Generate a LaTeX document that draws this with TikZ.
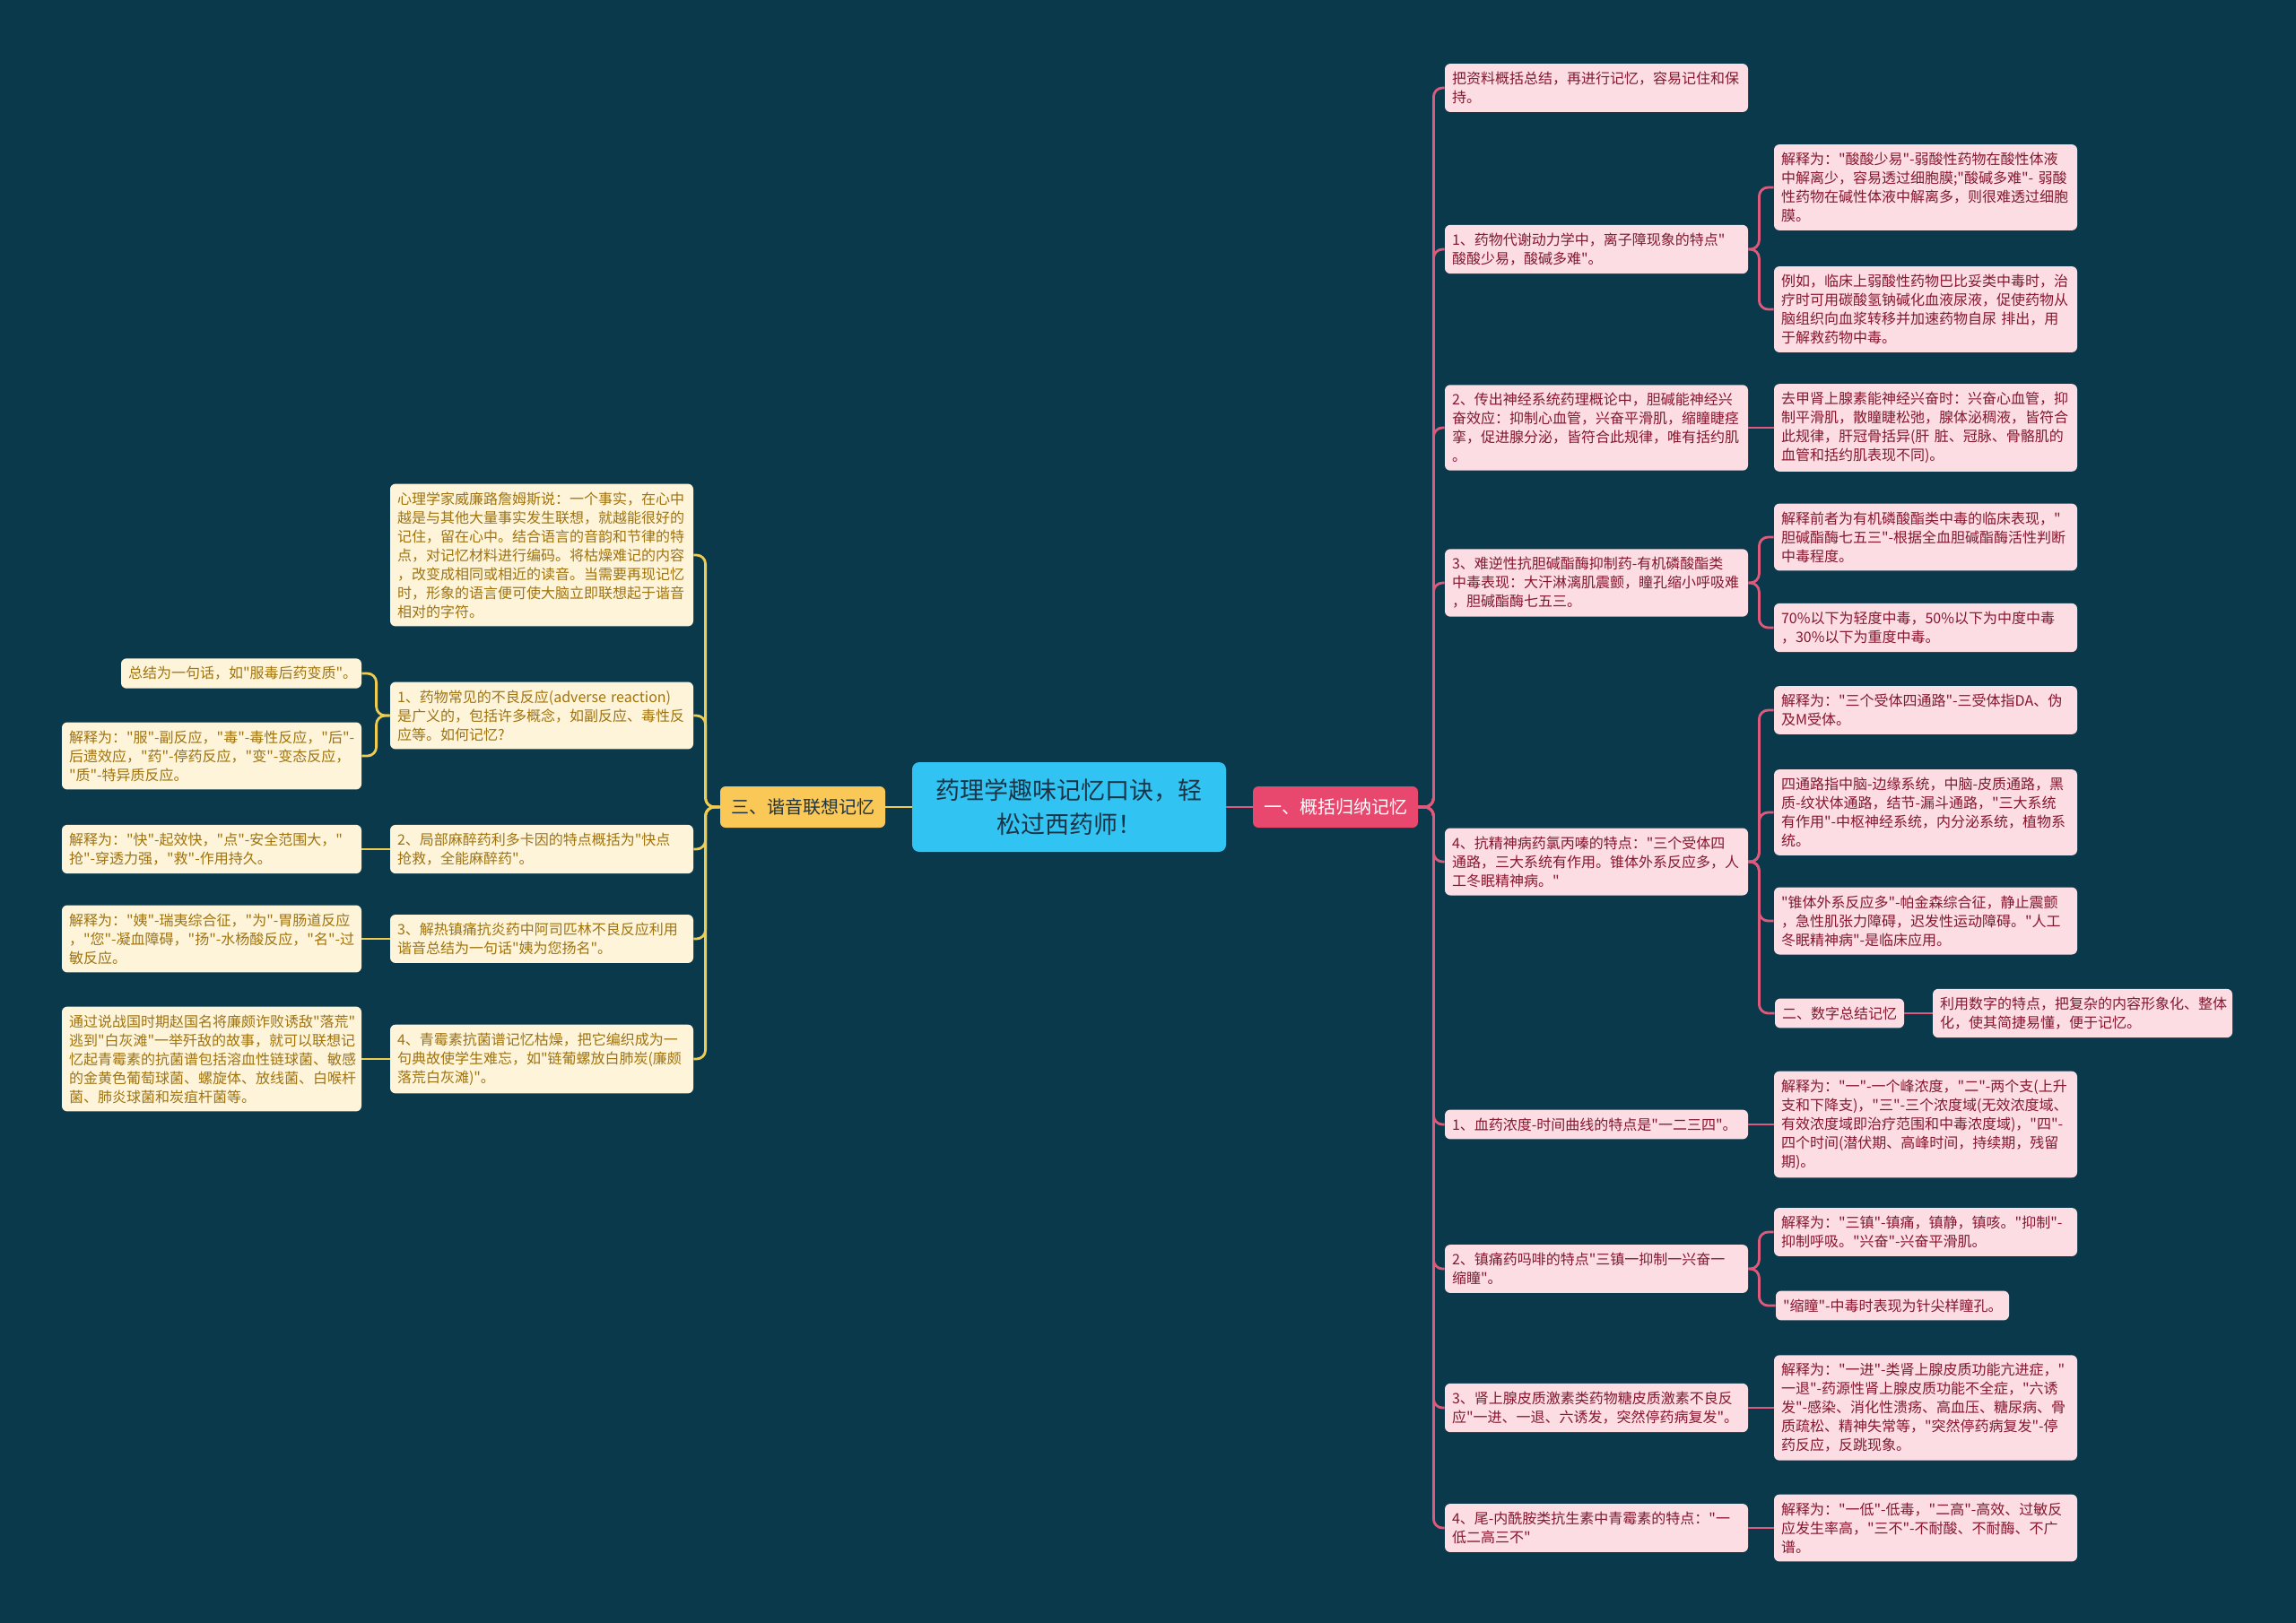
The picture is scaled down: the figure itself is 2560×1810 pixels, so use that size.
\documentclass[tikz,border=0pt]{standalone}
\usepackage{fontspec}
\setmainfont{Noto Sans CJK SC}[Ligatures=TeXOff]
\usetikzlibrary{positioning,calc}
\exhyphenpenalty=10000
\hyphenpenalty=10000

\definecolor{bgteal}{HTML}{0A394C}
\definecolor{rootblue}{HTML}{31C4F3}
\definecolor{roottext}{HTML}{1C3446}
\definecolor{branchred}{HTML}{E8476E}
\definecolor{branchyellow}{HTML}{F9C856}
\definecolor{pinkfill}{HTML}{FCDDE3}
\definecolor{pinktext}{HTML}{85172F}
\definecolor{pinkline}{HTML}{DE5A7C}
\definecolor{creamfill}{HTML}{FDF4DA}
\definecolor{creamtext}{HTML}{A0730E}
\definecolor{yellowline}{HTML}{EFCB52}

\begin{document}
\begin{tikzpicture}[
  x=0.5pt, y=-0.5pt,
  root/.style={rounded corners=4pt, fill=rootblue, text=roottext, font=\fontsize{13.5}{19}\selectfont, minimum width=175pt, minimum height=50pt, align=center},
  mainr/.style={rounded corners=3pt, fill=branchred, text=white, font=\fontsize{10}{12}\selectfont, minimum width=92pt, minimum height=23pt},
  mainl/.style={rounded corners=3pt, fill=branchyellow, text=roottext, font=\fontsize{10}{12}\selectfont, minimum width=92pt, minimum height=23pt},
  rbox/.style={rounded corners=3pt, fill=pinkfill, text=pinktext, font=\fontsize{8}{10.5}\selectfont, text width=161pt, inner xsep=4pt, inner ysep=4.5pt, align=left},
  lbox/.style={rounded corners=3pt, fill=creamfill, text=creamtext, font=\fontsize{8}{10.5}\selectfont, text width=161pt, inner xsep=4pt, inner ysep=4.5pt, align=left},
  rlink/.style={draw=pinkline, line width=1.4pt, rounded corners=5pt},
  ylink/.style={draw=yellowline, line width=1.4pt, rounded corners=5pt}
]

\useasboundingbox[fill=bgteal] (0,0) rectangle (2560,1810);

%% ---------- centre ----------
\node[root] (root) at (1192,900) {药理学趣味记忆口诀，轻\\松过西药师！};
\node[mainr] (rb) at (1489,900) {一、概括归纳记忆};
\node[mainl] (lb) at (895,900) {三、谐音联想记忆};

\draw[rlink] (root.east) -- (rb.west);
\draw[ylink] (root.west) -- (lb.east);

%% ---------- right: first column ----------
\node[rbox] (r0) at (1780,98) {把资料概括总结，再进行记忆，容易记住和保\\持。};
\node[rbox] (r1) at (1780,278) {1、药物代谢动力学中，离子障现象的特点"\\酸酸少易，酸碱多难"。};
\node[rbox] (r2) at (1780,477) {2、传出神经系统药理概论中，胆碱能神经兴\\奋效应：抑制心血管，兴奋平滑肌，缩瞳睫痉\\挛，促进腺分泌，皆符合此规律，唯有括约肌\\。};
\node[rbox] (r3) at (1780,650) {3、难逆性抗胆碱酯酶抑制药-有机磷酸酯类\\中毒表现：大汗淋漓肌震颤，瞳孔缩小呼吸难\\，胆碱酯酶七五三。};
\node[rbox] (r4) at (1780,961) {4、抗精神病药氯丙嗪的特点："三个受体四\\通路，三大系统有作用。锥体外系反应多，人\\工冬眠精神病。"};
\node[rbox] (r5) at (1780,1254) {1、血药浓度-时间曲线的特点是"一二三四"。};
\node[rbox] (r6) at (1780,1415) {2、镇痛药吗啡的特点"三镇一抑制一兴奋一\\缩瞳"。};
\node[rbox] (r7) at (1780,1570) {3、肾上腺皮质激素类药物糖皮质激素不良反\\应"一进、一退、六诱发，突然停药病复发"。};
\node[rbox] (r8) at (1780,1704) {4、尾-内酰胺类抗生素中青霉素的特点："一\\低二高三不"};

\foreach \n in {r0,r1,r2,r3,r4,r5,r6,r7,r8}
  \draw[rlink] (rb.east) -- ++(17,0) |- (\n.west);

%% ---------- right: second column ----------
\node[rbox] (r1a) at (2147,209) {解释为："酸酸少易"-弱酸性药物在酸性体液\\中解离少，容易透过细胞膜;"酸碱多难"-~弱酸\\性药物在碱性体液中解离多，则很难透过细胞\\膜。};
\node[rbox] (r1b) at (2147,345) {例如，临床上弱酸性药物巴比妥类中毒时，治\\疗时可用碳酸氢钠碱化血液尿液，促使药物从\\脑组织向血浆转移并加速药物自尿~排出，用\\于解救药物中毒。};
\node[rbox] (r2a) at (2147,477) {去甲肾上腺素能神经兴奋时：兴奋心血管，抑\\制平滑肌，散瞳睫松弛，腺体泌稠液，皆符合\\此规律，肝冠骨括异(肝~脏、冠脉、骨骼肌的\\血管和括约肌表现不同)。};
\node[rbox] (r3a) at (2147,599) {解释前者为有机磷酸酯类中毒的临床表现，"\\胆碱酯酶七五三"-根据全血胆碱酯酶活性判断\\中毒程度。};
\node[rbox] (r3b) at (2147,700) {70\%以下为轻度中毒，50\%以下为中度中毒\\，30\%以下为重度中毒。};
\node[rbox] (r4a) at (2147,792) {解释为："三个受体四通路"-三受体指DA、伪\\及M受体。};
\node[rbox] (r4b) at (2147,906) {四通路指中脑-边缘系统，中脑-皮质通路，黑\\质-纹状体通路，结节-漏斗通路，"三大系统\\有作用"-中枢神经系统，内分泌系统，植物系\\统。};
\node[rbox] (r4c) at (2147,1027) {"锥体外系反应多"-帕金森综合征，静止震颤\\，急性肌张力障碍，迟发性运动障碍。"人工\\冬眠精神病"-是临床应用。};
\node[rbox, text width=64pt] (r4d) at (2051,1130) {二、数字总结记忆};
\node[rbox, text width=159pt] (r4e) at (2322,1130) {利用数字的特点，把复杂的内容形象化、整体\\化，使其简捷易懂，便于记忆。};
\node[rbox] (r5a) at (2147,1254) {解释为："一"-一个峰浓度，"二"-两个支(上升\\支和下降支)，"三"-三个浓度域(无效浓度域、\\有效浓度域即治疗范围和中毒浓度域)，"四"-\\四个时间(潜伏期、高峰时间，持续期，残留\\期)。};
\node[rbox] (r6a) at (2147,1374) {解释为："三镇"-镇痛，镇静，镇咳。"抑制"-\\抑制呼吸。"兴奋"-兴奋平滑肌。};
\node[rbox, text width=122pt] (r6b) at (2110,1456) {"缩瞳"-中毒时表现为针尖样瞳孔。};
\node[rbox] (r7a) at (2147,1570) {解释为："一进"-类肾上腺皮质功能亢进症，"\\一退"-药源性肾上腺皮质功能不全症，"六诱\\发"-感染、消化性溃疡、高血压、糖尿病、骨\\质疏松、精神失常等，"突然停药病复发"-停\\药反应，反跳现象。};
\node[rbox] (r8a) at (2147,1704) {解释为："一低"-低毒，"二高"-高效、过敏反\\应发生率高，"三不"-不耐酸、不耐酶、不广\\谱。};

\draw[rlink] (r1.east) -- ++(12,0) |- (r1a.west);
\draw[rlink] (r1.east) -- ++(12,0) |- (r1b.west);
\draw[rlink] (r2.east) -- (r2a.west);
\draw[rlink] (r3.east) -- ++(12,0) |- (r3a.west);
\draw[rlink] (r3.east) -- ++(12,0) |- (r3b.west);
\foreach \n in {r4a,r4b,r4c,r4d}
  \draw[rlink] (r4.east) -- ++(12,0) |- (\n.west);
\draw[rlink] (r4d.east) -- (r4e.west);
\draw[rlink] (r5.east) -- (r5a.west);
\draw[rlink] (r6.east) -- ++(12,0) |- (r6a.west);
\draw[rlink] (r6.east) -- ++(12,0) |- (r6b.west);
\draw[rlink] (r7.east) -- (r7a.west);
\draw[rlink] (r8.east) -- (r8a.west);

%% ---------- left: first column ----------
\node[lbox] (l0) at (604,619) {心理学家威廉路詹姆斯说：一个事实，在心中\\越是与其他大量事实发生联想，就越能很好的\\记住，留在心中。结合语言的音韵和节律的特\\点，对记忆材料进行编码。将枯燥难记的内容\\，改变成相同或相近的读音。当需要再现记忆\\时，形象的语言便可使大脑立即联想起于谐音\\相对的字符。};
\node[lbox] (l1) at (604,798) {1、药物常见的不良反应(adverse~reaction)\\是广义的，包括许多概念，如副反应、毒性反\\应等。如何记忆?};
\node[lbox] (l2) at (604,947) {2、局部麻醉药利多卡因的特点概括为"快点\\抢救，全能麻醉药"。};
\node[lbox] (l3) at (604,1047) {3、解热镇痛抗炎药中阿司匹林不良反应利用\\谐音总结为一句话"姨为您扬名"。};
\node[lbox] (l4) at (604,1181) {4、青霉素抗菌谱记忆枯燥，把它编织成为一\\句典故使学生难忘，如"链葡螺放白肺炭(廉颇\\落荒白灰滩)"。};

\foreach \n in {l0,l1,l2,l3,l4}
  \draw[ylink] (lb.west) -- ++(-16,0) |- (\n.east);

%% ---------- left: second column ----------
\node[lbox, text width=126pt] (l1a) at (269,751) {总结为一句话，如"服毒后药变质"。};
\node[lbox, text width=159pt] (l1b) at (236,843) {解释为："服"-副反应，"毒"-毒性反应，"后"-\\后遗效应，"药"-停药反应，"变"-变态反应，\\"质"-特异质反应。};
\node[lbox, text width=159pt] (l2a) at (236,947) {解释为："快"-起效快，"点"-安全范围大，"\\抢"-穿透力强，"救"-作用持久。};
\node[lbox, text width=159pt] (l3a) at (236,1047) {解释为："姨"-瑞夷综合征，"为"-胃肠道反应\\，"您"-凝血障碍，"扬"-水杨酸反应，"名"-过\\敏反应。};
\node[lbox, text width=159pt] (l4a) at (236,1181) {通过说战国时期赵国名将廉颇诈败诱敌"落荒"\\逃到"白灰滩"一举歼敌的故事，就可以联想记\\忆起青霉素的抗菌谱包括溶血性链球菌、敏感\\的金黄色葡萄球菌、螺旋体、放线菌、白喉杆\\菌、肺炎球菌和炭疽杆菌等。};

\draw[ylink] (l1.west) -- ++(-15,0) |- (l1a.east);
\draw[ylink] (l1.west) -- ++(-15,0) |- (l1b.east);
\draw[ylink] (l2.west) -- (l2a.east);
\draw[ylink] (l3.west) -- (l3a.east);
\draw[ylink] (l4.west) -- (l4a.east);

\end{tikzpicture}
\end{document}
